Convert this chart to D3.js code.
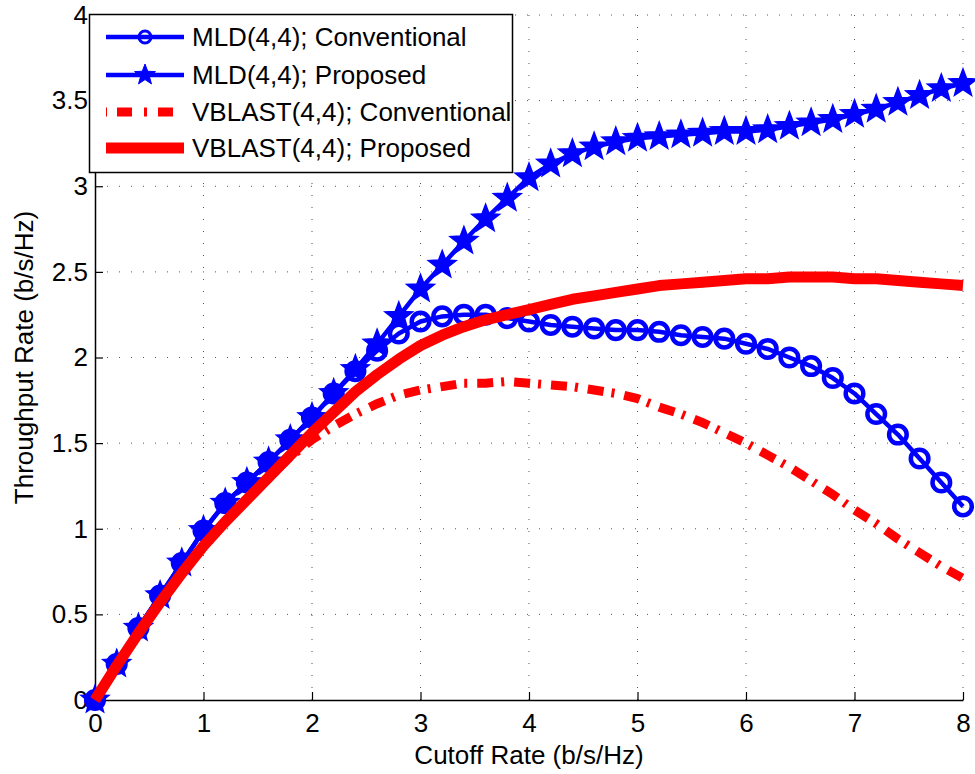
<!DOCTYPE html>
<html><head><meta charset="utf-8">
<script src="https://cdn.jsdelivr.net/npm/d3@7"></script>
<style>
body{margin:0;background:#fff;}
svg{display:block;font-family:"Liberation Sans",Arial,sans-serif;}
</style></head>
<body>
<svg id="chart" width="975" height="774"></svg>
<script>
// ---- data ----
const xValues = d3.range(0, 41).map(i => +(i * 0.2).toFixed(1));
const mldConventional = [0,0.21,0.42,0.61,0.80,0.99,1.15,1.27,1.39,1.52,1.65,1.79,1.92,2.04,2.14,2.21,2.24,2.25,2.25,2.23,2.21,2.19,2.18,2.17,2.16,2.16,2.15,2.13,2.12,2.11,2.08,2.05,2.00,1.95,1.88,1.79,1.67,1.55,1.41,1.27,1.13];
const mldProposed = [0,0.21,0.42,0.61,0.80,0.99,1.15,1.27,1.39,1.52,1.65,1.79,1.93,2.08,2.24,2.40,2.54,2.68,2.81,2.93,3.05,3.13,3.19,3.23,3.26,3.28,3.29,3.30,3.31,3.32,3.32,3.33,3.35,3.37,3.39,3.42,3.45,3.49,3.53,3.57,3.60];
const vblastConventional = [0,0.20,0.39,0.57,0.74,0.90,1.04,1.17,1.30,1.42,1.52,1.60,1.67,1.73,1.78,1.81,1.83,1.85,1.85,1.86,1.85,1.84,1.83,1.81,1.79,1.76,1.71,1.67,1.62,1.56,1.50,1.43,1.36,1.28,1.20,1.11,1.03,0.94,0.86,0.78,0.71];
const vblastProposed = [0,0.20,0.39,0.57,0.74,0.90,1.04,1.17,1.30,1.43,1.56,1.68,1.80,1.90,1.99,2.07,2.13,2.18,2.22,2.25,2.28,2.31,2.34,2.36,2.38,2.40,2.42,2.43,2.44,2.45,2.46,2.46,2.47,2.47,2.47,2.46,2.46,2.45,2.44,2.43,2.42];
const xTicks = [0,1,2,3,4,5,6,7,8];
const yTicks = [0,0.5,1,1.5,2,2.5,3,3.5,4];
const seriesNames = ["MLD(4,4); Conventional","MLD(4,4); Proposed","VBLAST(4,4); Conventional","VBLAST(4,4); Proposed"];

// ---- layout ----
const svg = d3.select("#chart");
const L = 95, R = 963, T = 15, B = 700;
const FS = 26;
const x = d3.scaleLinear().domain([0,8]).range([L,R]);
const y = d3.scaleLinear().domain([0,4]).range([B,T]);

// grid
const grid = svg.append("g").attr("stroke","#555").attr("stroke-width",1).attr("stroke-dasharray","1,11");
grid.selectAll("line.gx").data(xTicks.slice(1)).join("line")
  .attr("x1",d=>x(d)).attr("x2",d=>x(d)).attr("y1",B).attr("y2",T);
grid.selectAll("line.gy").data(yTicks.slice(1)).join("line")
  .attr("x1",L).attr("x2",R).attr("y1",d=>y(d)).attr("y2",d=>y(d));

// axes
const xAxis = d3.axisBottom(x).tickValues(xTicks).tickFormat(d3.format("d")).tickSizeInner(-8).tickSizeOuter(0).tickPadding(14);
const yAxis = d3.axisLeft(y).tickValues(yTicks).tickFormat(d=>String(d)).tickSizeInner(-8).tickSizeOuter(0).tickPadding(7);
const gx = svg.append("g").attr("transform",`translate(0,${B})`).call(xAxis);
const gy = svg.append("g").attr("transform",`translate(${L},0)`).call(yAxis);
[gx,gy].forEach(g=>{
  g.select(".domain").attr("stroke","#000").attr("stroke-width",1.5);
  g.selectAll(".tick line").attr("stroke","#000").attr("stroke-width",1.2);
  g.selectAll(".tick text").attr("font-size",FS).attr("fill","#000").attr("font-family","Liberation Sans, Arial, sans-serif");
});

// axis labels
svg.append("text").attr("x",(L+R)/2).attr("y",764).attr("text-anchor","middle")
  .attr("font-size",FS).text("Cutoff Rate (b/s/Hz)");
svg.append("text").attr("transform",`translate(33,${(T+B)/2}) rotate(-90)`).attr("text-anchor","middle")
  .attr("font-size",FS).text("Throughput Rate (b/s/Hz)");

// star path
function starPath(Rr, k){
  const pts=[]; const r=Rr*(k||0.42);
  for(let i=0;i<10;i++){
    const a=-Math.PI/2 + i*Math.PI/5;
    const rad = i%2===0?Rr:r;
    pts.push([rad*Math.cos(a), rad*Math.sin(a)]);
  }
  return "M"+pts.map(p=>p[0].toFixed(2)+","+p[1].toFixed(2)).join("L")+"Z";
}

const line = d3.line().x((d,i)=>x(xValues[i])).y(d=>y(d));
const plot = svg.append("g");

// MLD conventional
plot.append("path").attr("d",line(mldConventional)).attr("fill","none").attr("stroke","#0000ff").attr("stroke-width",4.5).attr("stroke-linejoin","round");
plot.append("g").selectAll("circle").data(mldConventional).join("circle")
  .attr("cx",(d,i)=>x(xValues[i])).attr("cy",d=>y(d)).attr("r",8.8)
  .attr("fill","none").attr("stroke","#0000ff").attr("stroke-width",4.5);

// MLD proposed
plot.append("path").attr("d",line(mldProposed)).attr("fill","none").attr("stroke","#0000ff").attr("stroke-width",4.5).attr("stroke-linejoin","round");
plot.append("g").selectAll("path").data(mldProposed).join("path")
  .attr("d",starPath(14.5,0.42)).attr("transform",(d,i)=>`translate(${x(xValues[i])},${y(d)})`)
  .attr("fill","#0000ff").attr("stroke","#0000ff").attr("stroke-width",1.5).attr("stroke-linejoin","miter");

// VBLAST conventional
plot.append("path").attr("d",line(vblastConventional)).attr("fill","none").attr("stroke","#ff0000").attr("stroke-width",9)
  .attr("stroke-dasharray","16,8,3,10");

// VBLAST proposed
plot.append("path").attr("d",line(vblastProposed)).attr("fill","none").attr("stroke","#ff0000").attr("stroke-width",11).attr("stroke-linejoin","round");

// legend
const lg = svg.append("g");
lg.append("rect").attr("x",89.5).attr("y",14.5).attr("width",423).attr("height",158)
  .attr("fill","#fff").attr("stroke","#000").attr("stroke-width",1.5);
const rowsY = [37,75,112,148];
const lx1 = 106, lx2 = 184, lm = 145;
// row 0
lg.append("line").attr("x1",lx1).attr("x2",lx2).attr("y1",rowsY[0]).attr("y2",rowsY[0]).attr("stroke","#0000ff").attr("stroke-width",4.5);
lg.append("circle").attr("cx",lm).attr("cy",rowsY[0]).attr("r",6).attr("fill","none").attr("stroke","#0000ff").attr("stroke-width",3);
// row 1
lg.append("line").attr("x1",lx1).attr("x2",lx2).attr("y1",rowsY[1]).attr("y2",rowsY[1]).attr("stroke","#0000ff").attr("stroke-width",4.5);
lg.append("path").attr("d",starPath(11,0.42)).attr("transform",`translate(${lm},${rowsY[1]})`).attr("fill","#0000ff").attr("stroke","#0000ff").attr("stroke-width",1);
// row 2
lg.append("line").attr("x1",lx1).attr("x2",lx2).attr("y1",rowsY[2]).attr("y2",rowsY[2]).attr("stroke","#ff0000").attr("stroke-width",9)
  .attr("stroke-dasharray","1,10,15,12,3,11,15,12");
// row 3
lg.append("line").attr("x1",lx1).attr("x2",lx2).attr("y1",rowsY[3]).attr("y2",rowsY[3]).attr("stroke","#ff0000").attr("stroke-width",11);
lg.selectAll("text.lt").data(seriesNames).join("text")
  .attr("x",192).attr("y",(d,i)=>rowsY[i]+9).attr("font-size",FS).attr("fill","#000").text(d=>d);
</script>
</body></html>
